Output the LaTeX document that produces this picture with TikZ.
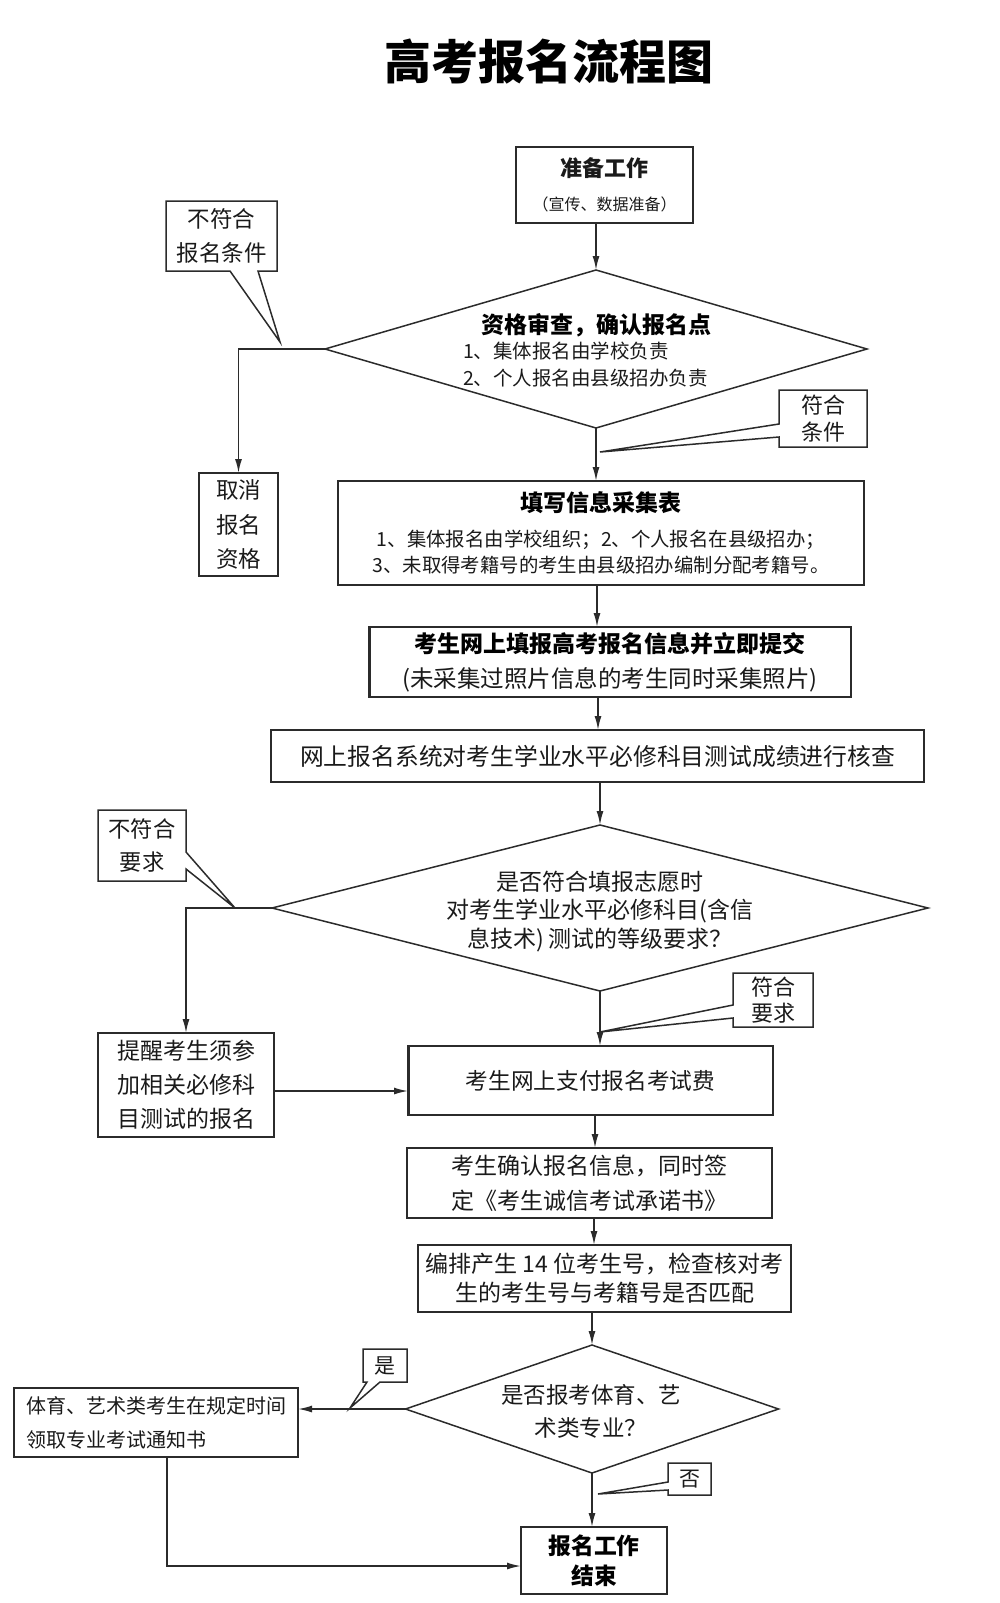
\documentclass[tikz,border=0pt]{standalone}
\usepackage{fontspec}
\setmainfont{Noto Sans CJK SC}
\usetikzlibrary{arrows.meta,shapes.geometric}
\definecolor{lc}{HTML}{2B2B2B}
\definecolor{tc}{HTML}{1A1A1A}
\newcommand{\fs}[2]{\fontsize{#1}{#2}\selectfont}
\tikzset{
  ln/.style={draw=lc, line width=1.5pt, line join=miter},
  box/.style={ln, rectangle, inner sep=0pt, outer sep=0pt, align=center, text=tc},
  cbox/.style={rectangle, inner sep=0pt, outer sep=0pt, align=center, text=tc},
  dia/.style={ln, diamond, inner sep=0pt, outer sep=0pt},
  lbl/.style={inner sep=0pt, outer sep=0pt, text=tc},
  arr/.style={draw=lc, line width=1.6pt, -{Latex[length=14pt,width=7pt]}},
}
\begin{document}
\begin{tikzpicture}[x=1pt,y=-1pt]
\useasboundingbox (0,0) rectangle (1000,1603);

% title
\node[lbl, text=black, font=\bfseries\fs{47}{47}] (title) at (549,61.5) {高考报名流程图};

% main boxes
\node[box, minimum width=177pt, minimum height=76pt, font=\fs{22}{34}] (prep) at (604.5,185)
  {{\bfseries 准备工作}\\{\fs{16}{34}（宣传、数据准备）}};

\node[dia, minimum width=542pt, minimum height=158pt] (d1) at (596,349) {};
\node[lbl, text=black, font=\bfseries\fs{23}{23}] (d1t) at (596,325) {资格审查，确认报名点};
\node[lbl, anchor=west, font=\fs{19.5}{19.5}] (d1a) at (463,351) {1、集体报名由学校负责};
\node[lbl, anchor=west, font=\fs{19.5}{19.5}] (d1b) at (463,378) {2、个人报名由县级招办负责};

\node[box, minimum width=526pt, minimum height=104pt, font=\fs{19.4}{26}] (tx1) at (601,533)
  {{\bfseries\fs{23}{26}\textcolor{black}{填写信息采集表}}\\[9pt]1、集体报名由学校组织；2、个人报名在县级招办；\\3、未取得考籍号的考生由县级招办编制分配考籍号。};

\node[box, minimum width=482pt, minimum height=70pt, font=\fs{23}{35}] (ws) at (610,662)
  {{\bfseries\textcolor{black}{考生网上填报高考报名信息并立即提交}}\\{\fs{23.5}{35}(未采集过照片信息的考生同时采集照片)}};
\draw[draw=lc, line width=3pt] (ws.north west) -- (ws.south west);

\node[box, minimum width=653pt, minimum height=52pt, font=\fs{23.8}{30}] (jc) at (597.5,756)
  {网上报名系统对考生学业水平必修科目测试成绩进行核查};

\node[dia, minimum width=656pt, minimum height=166pt] (d2) at (600,908) {};
\node[lbl, align=center, font=\fs{23}{28.5}] (d2t) at (600,911.5)
  {是否符合填报志愿时\\对考生学业水平必修科目(含信\\息技术) 测试的等级要求？};

\node[box, minimum width=365pt, minimum height=69pt, font=\fs{22.7}{30}] (zf) at (590.5,1080.5)
  {考生网上支付报名考试费};
\draw[draw=lc, line width=3pt] (zf.north west) -- (zf.south west);

\node[box, minimum width=365pt, minimum height=70pt, align=left, font=\fs{23}{35}] (qr) at (589.5,1183)
  {考生确认报名信息，同时签\\定《考生诚信考试承诺书》};

\node[box, line width=2.6pt, minimum width=373pt, minimum height=67pt, font=\fs{23}{29}] (bp) at (604.5,1278.5)
  {编排产生 14 位考生号，检查核对考\\生的考生号与考籍号是否匹配};

\node[dia, minimum width=373pt, minimum height=128pt] (d3) at (592,1409) {};
\node[lbl, align=center, font=\fs{22.5}{33}] (d3t) at (591,1411.5)
  {是否报考体育、艺\\术类专业？};

\node[box, minimum width=146pt, minimum height=67pt, font=\bfseries\fs{22.8}{30}, text=black] (js) at (594,1560.5)
  {报名工作\\结束};

% side boxes
\node[box, minimum width=79pt, minimum height=103pt, font=\fs{22.5}{34.5}] (qx) at (238.5,524.5)
  {取消\\报名\\资格};
\node[box, minimum width=176pt, minimum height=104pt, font=\fs{23}{34}] (tr) at (186,1085)
  {提醒考生须参\\加相关必修科\\目测试的报名};
\node[box, minimum width=284pt, minimum height=69pt, align=left, font=\fs{20}{34}] (ty) at (156,1422.5)
  {体育、艺术类考生在规定时间\\领取专业考试通知书};

% callouts
\node[cbox, minimum width=88pt, minimum height=57pt, font=\fs{22}{27}] (fh1) at (823,418.5) {符合\\条件};
\coordinate (t1) at (600,452);
\draw[ln] ([yshift=23pt]fh1.south west) -- (fh1.north west) -- (fh1.north east) -- (fh1.south east)
  -- (fh1.south west) -- ([yshift=10pt]fh1.south west) -- (t1) -- cycle;

\node[cbox, minimum width=111pt, minimum height=70pt, font=\fs{22.5}{34}] (bs) at (221.5,236) {不符合\\报名条件};
\coordinate (t2) at (280,342);
\draw[ln] (bs.north west) -- (bs.north east) -- (bs.south east) -- ([xshift=92pt]bs.south west)
  -- (t2) -- ([xshift=64pt]bs.south west) -- (bs.south west) -- cycle;

\node[cbox, minimum width=88pt, minimum height=71pt, font=\fs{22.3}{33}] (bq) at (142,845.5) {不符合\\要求};
\coordinate (t3) at (235,908);
\draw[ln] (bq.north west) -- (bq.north east) -- ([yshift=29pt]bq.south east) -- (t3)
  -- ([yshift=12pt]bq.south east) -- (bq.south east) -- (bq.south west) -- cycle;

\node[cbox, minimum width=80pt, minimum height=54pt, font=\fs{22}{26}] (fh2) at (773,1000) {符合\\要求};
\coordinate (t4) at (600,1032);
\draw[ln] ([yshift=22pt]fh2.south west) -- (fh2.north west) -- (fh2.north east) -- (fh2.south east)
  -- (fh2.south west) -- ([yshift=9pt]fh2.south west) -- (t4) -- cycle;

\node[cbox, minimum width=44pt, minimum height=33pt, font=\fs{21}{21}] (sh) at (385,1365.5) {是};
\coordinate (t5) at (350,1408);
\draw[ln] (sh.north west) -- (sh.north east) -- (sh.south east) -- ([xshift=17pt]sh.south west)
  -- (t5) -- ([xshift=4pt]sh.south west) -- (sh.south west) -- cycle;

\node[cbox, minimum width=43pt, minimum height=32pt, font=\fs{21}{21}] (fo) at (689.5,1479) {否};
\coordinate (t6) at (598,1494);
\draw[ln] ([yshift=13pt]fo.south west) -- (fo.north west) -- (fo.north east) -- (fo.south east)
  -- (fo.south west) -- ([yshift=5pt]fo.south west) -- (t6) -- cycle;

% connectors
\draw[arr] (d1.north |- prep.south) -- (d1.north);
\draw[arr] (d1.south) -- (d1.south |- tx1.north);
\draw[arr] (d1.west) -| (qx.north);
\draw[arr] ([xshift=-4pt]tx1.south) -- ([xshift=-4pt]tx1.south |- ws.north);
\draw[arr] ([xshift=-12pt]ws.south) -- ([xshift=-12pt]ws.south |- jc.north);
\draw[arr] (d2.north |- jc.south) -- (d2.north);
\draw[arr] (d2.west) -| (tr.north);
\draw[arr] (d2.south) -- (d2.south |- zf.north);
\draw[arr] ([yshift=-6pt]tr.east) -- ([yshift=-6pt]tr.east -| zf.west);
\draw[arr] ([xshift=4.5pt]zf.south) -- ([xshift=4.5pt]zf.south |- qr.north);
\draw[arr] ([xshift=4.5pt]qr.south) -- ([xshift=4.5pt]qr.south |- bp.north);
\draw[arr] (d3.north |- bp.south) -- (d3.north);
\draw[arr] (d3.west) -- (d3.west -| ty.east);
\draw[arr] (d3.south) -- (d3.south |- js.north);
\coordinate (lx) at (167,1566);
\draw[arr] (ty.south -| lx) -- (lx) -- (lx -| js.west);
\end{tikzpicture}
\end{document}
